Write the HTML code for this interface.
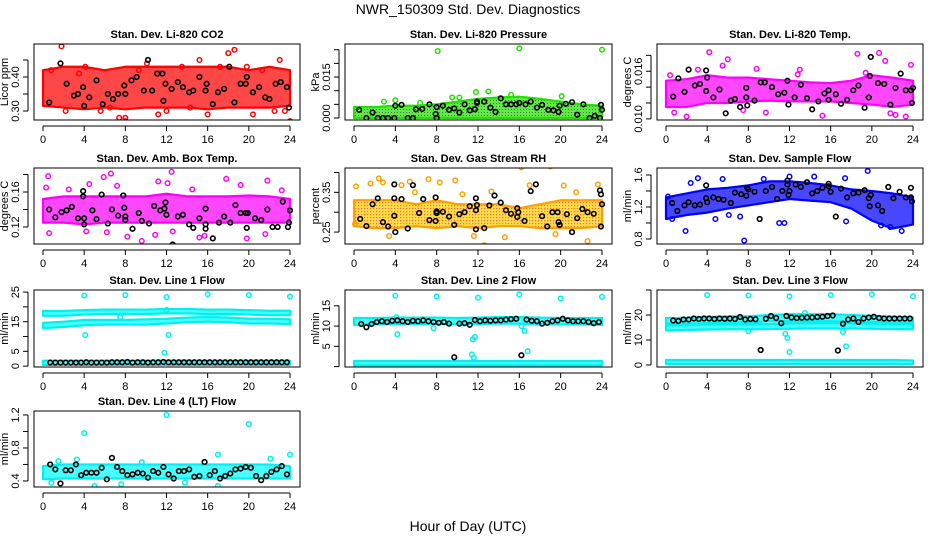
<!DOCTYPE html>
<html><head><meta charset="utf-8">
<style>
html,body{margin:0;padding:0;background:#fff;}
svg{display:block;font-family:"Liberation Sans",Arial,sans-serif;}
</style></head>
<body>
<svg id="chart" width="936" height="540" viewBox="0 0 936 540" xmlns="http://www.w3.org/2000/svg">
<defs>
<pattern id="rhpat" width="3" height="3" patternUnits="userSpaceOnUse"><rect width="3" height="3" fill="#ffd000"/><rect x="1" y="1" width="1.2" height="1.2" fill="#ff3000"/></pattern>
<pattern id="prpat" width="3" height="3" patternUnits="userSpaceOnUse"><rect width="3" height="3" fill="#22e000"/><rect x="1" y="1" width="1" height="1" fill="#064000"/></pattern>
</defs>
<text x="468" y="14" text-anchor="middle" font-size="14">NWR_150309  Std. Dev. Diagnostics</text>
<text x="468" y="531" text-anchor="middle" font-size="14">Hour of Day (UTC)</text>
<g id="panels"></g>
</svg>
<script>
// ---------- data ----------
const bandHours = [0,2,4,6,8,10,12,14,16,18,20,22,24];
const xTicks = [0,4,8,12,16,20,24];
const lineHours = [0.7,1.2,1.7,2.2,2.7,3.2,3.7,4.2,4.7,5.2,5.7,6.2,6.7,7.2,7.7,8.2,8.7,9.2,9.7,10.2,10.7,11.2,11.7,12.2,12.7,13.2,13.7,14.2,14.7,15.2,15.7,16.2,16.7,17.2,17.7,18.2,18.7,19.2,19.7,20.2,20.7,21.2,21.7,22.2,22.7,23.2,23.7];

// CO2
const co2Lo = [0.315,0.31,0.305,0.31,0.305,0.31,0.31,0.31,0.305,0.31,0.31,0.31,0.315];
const co2Hi = [0.42,0.43,0.43,0.42,0.43,0.43,0.43,0.43,0.43,0.43,0.42,0.43,0.42];
const co2OutX = [1.8,8,8,10.1,15.2,18,18.6,23,24,2.2,5.6,7.4,16,20.4,22.5,11.2,4.1,13.5,19.8,12,0.8,3.5,6.5,9.3,14.3,17.2,21.3,23.5];
const co2OutY = [0.49,0.28,0.27,0.44,0.45,0.47,0.48,0.45,0.27,0.30,0.30,0.28,0.29,0.29,0.30,0.29,0.43,0.43,0.43,0.30,0.42,0.41,0.31,0.42,0.31,0.43,0.42,0.30];
const co2BX = [0.6,1.7,2.3,3,3.4,3.9,4,4.5,5.2,5.8,6.3,6.8,7.3,7.9,8,8.6,9.1,9.8,10.2,10.6,11.1,11.6,11.7,11.9,12.5,13.1,13.6,14.2,14.6,15.2,15.8,15.9,16.5,17,17.6,18.1,18.6,19.2,19.7,19.8,20.4,21,21.6,22,22.6,23.1,23.7,23.9];
const co2BY = [0.325,0.44,0.38,0.345,0.35,0.37,0.315,0.34,0.39,0.32,0.35,0.335,0.35,0.375,0.35,0.39,0.40,0.36,0.45,0.36,0.41,0.41,0.33,0.38,0.365,0.385,0.37,0.355,0.36,0.40,0.36,0.38,0.32,0.355,0.365,0.43,0.325,0.38,0.38,0.40,0.355,0.37,0.34,0.335,0.38,0.385,0.37,0.31];

// Pressure
const prLo = [0,0,0,0,0,0,0,0,0,0,0,0,0];
const prHi = [0.004,0.004,0.0045,0.0045,0.005,0.006,0.007,0.0075,0.0078,0.007,0.006,0.005,0.0045];
const prOutX = [8.1,16,24,11.8,13,20.1,4,9.5,10.2,15.2,2.9,6.4];
const prOutY = [0.0245,0.0255,0.025,0.0095,0.0097,0.008,0.0065,0.0075,0.0075,0.0085,0.006,0.0055];
const prBX = [0.5,1.2,1.8,2.3,2.8,3.3,3.9,4,4.6,5.2,5.7,6,6.6,7.3,7.9,8,8,8.6,9.2,9.7,10.2,10.7,11.2,11.7,11.9,11.9,12.6,13.2,13.7,14.2,14.7,15.2,15.7,16,16.6,17.1,17.7,18.2,18.8,19.3,19.8,19.9,20.5,21.1,21.6,22.2,22.8,23.3,23.8,23.9,24];
const prBY = [0.003,0,0.002,0,0,0,0,0.0045,0.0048,0,0,0.0032,0.0033,0.005,0.0015,0,0.004,0.0045,0.003,0.0035,0.002,0.005,0.0028,0.0032,0.006,0.0055,0.006,0.0038,0.0022,0.0072,0.005,0.005,0.005,0.0055,0.005,0.006,0.0038,0.0048,0.003,0.0028,0.0022,0.0045,0.0052,0.0058,0.0012,0.005,0,0.0008,0,0.0048,0.003];

// Li-820 Temp
const tLo = [0.0115,0.0115,0.012,0.012,0.0122,0.0123,0.0122,0.0122,0.0122,0.012,0.0118,0.0115,0.0118];
const tHi = [0.0148,0.015,0.0155,0.0152,0.0152,0.015,0.0148,0.0146,0.0145,0.0148,0.0155,0.0152,0.0148];
const tOutX = [4.2,6,10.3,10.5,18.6,20.7,21.3,23.8,2,0.8,22.3,23.3,21.8,13,15.2,0.4,3.1,5.5,8.8,12.8,19.4,9.7,7.5];
const tOutY = [0.0184,0.0175,0.0085,0.009,0.0182,0.0183,0.0173,0.0168,0.0103,0.0108,0.0105,0.0103,0.0107,0.0162,0.0104,0.0155,0.0162,0.0167,0.0163,0.0156,0.0158,0.0108,0.0111];
const tBX = [0.7,1.2,1.8,2.2,2.8,3.3,3.9,3.9,4,4.6,5.2,5.8,6.3,6.7,7.2,7.8,7.8,7.9,8.6,9.2,9.6,10.3,10.9,11.5,11.8,11.9,12.5,13.1,13.7,14.2,14.8,15.4,15.8,15.8,16.5,17,17.6,18.2,18.7,19.3,19.7,19.8,19.9,20.6,21.2,21.8,22.3,22.8,23.3,23.8,23.9,24];
const tBY = [0.0128,0.0151,0.0134,0.0162,0.0142,0.0144,0.0135,0.0161,0.0152,0.0127,0.0137,0.0107,0.0123,0.0125,0.0115,0.0139,0.0127,0.0117,0.0123,0.0146,0.0146,0.014,0.0131,0.0133,0.0148,0.0118,0.0127,0.0143,0.0126,0.0112,0.0122,0.0132,0.0136,0.0124,0.0131,0.0119,0.0124,0.0136,0.0142,0.0114,0.0127,0.0154,0.0178,0.0145,0.0144,0.0118,0.0139,0.0157,0.0136,0.0136,0.012,0.0139];

// Amb box temp
const aLo = [0.125,0.125,0.123,0.125,0.125,0.125,0.125,0.125,0.125,0.125,0.125,0.125,0.125];
const aHi = [0.152,0.155,0.155,0.155,0.155,0.155,0.158,0.155,0.155,0.155,0.156,0.155,0.152];
const aOutX = [0.5,0.3,0.6,4.5,5.9,6.6,7.2,9.6,8.2,11.2,12.1,12.5,12.6,15.7,17.8,19.2,19.8,21.8,15.2,4.2,10.9,6.2,21.6,2.5,14.5,23.2];
const aOutY = [0.178,0.165,0.113,0.169,0.177,0.181,0.167,0.104,0.109,0.172,0.17,0.183,0.115,0.11,0.175,0.168,0.107,0.173,0.108,0.115,0.111,0.114,0.112,0.163,0.163,0.162];
const aBX = [0.6,1.2,1.8,2.3,2.8,3.4,3.9,3.9,4,4,4.8,5.2,5.7,6.3,6.7,7.3,7.8,7.9,8,8,8.7,9.3,9.6,10.3,10.8,11.4,11.8,11.9,12,12.6,13.1,13.6,14.2,14.6,15.2,15.8,15.8,15.8,16.5,17.1,17.6,18.2,18.7,19.2,19.7,19.8,19.9,20.6,21.2,21.8,22.3,22.8,23.3,23.8,23.9,24];
const aBY = [0.14,0.131,0.137,0.139,0.143,0.13,0.161,0.155,0.13,0.123,0.139,0.129,0.157,0.124,0.14,0.133,0.156,0.142,0.132,0.128,0.118,0.136,0.127,0.124,0.144,0.139,0.141,0.148,0.134,0.1,0.132,0.134,0.123,0.119,0.13,0.141,0.123,0.118,0.107,0.125,0.132,0.125,0.145,0.136,0.136,0.119,0.136,0.13,0.128,0.14,0.12,0.12,0.149,0.12,0.125,0.139];

// Gas stream RH
const rLo = [0.265,0.26,0.26,0.265,0.26,0.265,0.26,0.265,0.265,0.26,0.26,0.26,0.265];
const rHi = [0.33,0.33,0.33,0.32,0.33,0.32,0.32,0.32,0.31,0.32,0.33,0.33,0.33];
const rOutX = [0.2,1.6,2.4,2.8,4.6,5.4,7.2,8.3,9.8,16.2,19,17,20.3,23.6,12.6,22.6,3.4,11.6,14.6,0.1,19.5,5.9,10.5,13.3,21.5];
const rOutY = [0.365,0.372,0.385,0.375,0.368,0.377,0.383,0.375,0.38,0.413,0.415,0.368,0.367,0.37,0.217,0.227,0.24,0.24,0.237,0.27,0.245,0.35,0.345,0.352,0.35];
const rBX = [0.6,1.2,1.8,2.3,2.8,3.3,3.9,3.9,3.9,4,4.6,5.2,5.7,6.3,6.7,7.3,7.9,7.9,8,8,8.6,9.2,9.7,10.2,10.7,11.2,11.8,11.8,11.9,11.8,12.6,13.1,13.6,14.2,14.7,15.2,15.8,15.8,15.9,16.5,17.1,17.6,18.2,18.7,19.2,19.7,19.8,19.9,20.6,21.1,21.6,22.1,22.6,23.2,23.8,23.9,23.9,24];
const rBY = [0.283,0.265,0.32,0.335,0.275,0.264,0.37,0.335,0.291,0.25,0.333,0.259,0.368,0.298,0.333,0.28,0.337,0.278,0.298,0.302,0.301,0.289,0.268,0.295,0.3,0.315,0.335,0.305,0.318,0.257,0.26,0.317,0.342,0.324,0.305,0.296,0.31,0.288,0.3,0.278,0.353,0.37,0.29,0.264,0.3,0.3,0.275,0.268,0.295,0.25,0.285,0.308,0.3,0.296,0.355,0.345,0.264,0.32];

// Sample flow
const sLo = [1.05,1.1,1.13,1.18,1.22,1.26,1.3,1.28,1.26,1.18,1.03,0.93,0.98];
const sHi = [1.32,1.37,1.42,1.44,1.47,1.52,1.52,1.5,1.47,1.42,1.4,1.37,1.32];
const sOutX = [1.9,7.6,19.6,3.1,5.5,14.4,17.4,11,11.5,17.5,9.5,2.4,12,0.2,0.6,4.8,7.2,20.9,21.8,22.9,6.1];
const sOutY = [0.9,0.78,1.65,1.56,1.55,1.58,1.56,1.0,1.0,1.02,1.55,1.5,1.58,1.33,1.05,1.05,1.08,0.97,0.95,0.9,1.1];
const sBX = [0.6,1.1,1.8,2.2,2.8,3.3,3.9,3.9,4,4.6,5.1,5.6,6.3,6.7,7.3,7.9,7.8,8,8.6,9.1,9.7,10.3,10.8,11.3,11.8,11.8,11.9,12,12.6,13.1,13.7,14.2,14.7,15.2,15.8,15.8,16,16.5,17,17.6,18.2,18.7,19.3,19.7,19.8,19.9,20.6,21,21.6,22.1,22.7,23.3,23.8,23.8,23.9];
const sBY = [1.25,1.15,1.22,1.26,1.22,1.23,1.47,1.31,1.26,1.32,1.3,1.29,1.25,1.38,1.36,1.44,1.34,1.42,1.39,1.05,1.4,1.45,1.3,1.4,1.53,1.48,1.35,1.4,1.48,1.45,1.51,1.37,1.4,1.44,1.49,1.46,1.39,1.08,1.43,1.32,1.37,1.38,1.41,1.31,1.21,1.35,1.22,1.15,1.45,1.31,1.39,1.32,1.44,1.32,1.27];

// Line 1 flow
const l1aLo = [17,17,17.4,17.6,17.6,17.6,17.8,17.8,17.6,17.6,17.4,17.2,17.2];
const l1aHi = [18.6,18.6,18.9,19.1,19.1,19.1,19.3,19.3,19.1,19.1,18.9,18.7,18.7];
const l1bLo = [12.8,13.2,13.8,14,14,14,14.4,14.8,15,14.8,14.4,14.4,14.2];
const l1bHi = [14.6,15,15.6,15.6,15.6,15.8,16,16.4,16.6,16.4,16,16,15.8];
const l1cLo = [0.4,0.4,0.4,0.4,0.4,0.4,0.4,0.4,0.4,0.4,0.4,0.4,0.4];
const l1cHi = [1.8,1.8,1.8,1.8,1.8,1.8,1.8,1.8,1.8,1.8,1.8,1.8,1.8];
const l1OutX = [4,8,12,16,20,24,4.1,11.8,12.2,12,7.5];
const l1OutY = [23.8,24,23.3,24.3,24,23.5,10.5,4.5,10.5,19,16.5];
const l1BY = [1.2,1.2,1.2,1.2,1.2,1.2,1.2,1.3,1.2,1.2,1.2,1.2,1.3,1.3,1.3,1.4,1.2,1.3,1.3,1.2,1.3,1.3,1.4,1.3,1.3,1.3,1.3,1.3,1.3,1.3,1.3,1.3,1.3,1.3,1.3,1.3,1.3,1.3,1.3,1.3,1.3,1.3,1.3,1.3,1.3,1.3,1.3];

// Line 2 flow
const l2aLo = [10.3,10.4,10.5,10.5,10.5,10.4,10.5,10.6,10.6,10.4,10.4,10.4,10.3];
const l2aHi = [12,12,12.1,12.1,12.1,12,12.1,12.2,12.2,12.1,12,12,12];
const l2cLo = [0.3,0.3,0.3,0.3,0.3,0.3,0.3,0.3,0.3,0.3,0.3,0.3,0.3];
const l2cHi = [1.4,1.4,1.4,1.4,1.4,1.4,1.4,1.4,1.4,1.4,1.4,1.4,1.4];
const l2OutX = [4,8,12,16,20,24,4.1,4.2,7.7,11.5,11.7,11.4,11.6,16.2,16.5,16.8];
const l2OutY = [17.5,17.3,17,17.8,16.8,17.2,12.2,8,9.5,6.7,7.3,3,2.2,10,8.8,3.8];
const l2BY = [10.5,9.7,10.5,11,11.2,11,11.3,11.4,11.2,11,11.3,11.2,11.4,11.2,11,10.8,11,10.6,2.3,10.6,10.7,10.3,11.5,11.2,11.4,11.3,11.4,11.4,11.6,11.7,11.8,2.8,11.6,11.3,11.2,10.6,10.8,11.2,11.4,11.8,11.4,11.2,11.2,11.2,11,10.7,11];

// Line 3 flow
const l3aLo = [16.5,16.5,16.8,17,17,17.5,17.5,17.5,17.5,17.3,17.2,17,17];
const l3aHi = [18.8,18.8,19.2,19.4,19.5,20,20.3,20.3,20.3,20,19.6,19.3,19];
const l3bLo = [13.8,14,14.2,14.3,14.3,14.4,14.5,14.6,14.6,14.6,14.5,14.4,14.3];
const l3bHi = [15.8,16,16.2,16.3,16.3,16.4,16.6,16.7,16.7,16.7,16.5,16.4,16.3];
const l3cLo = [0.4,0.4,0.4,0.4,0.4,0.4,0.4,0.4,0.4,0.4,0.4,0.4,0.3];
const l3cHi = [2,2,2,2,2,2,2,2,2,2,2,2,1.8];
const l3OutX = [4,8,12,16,20,24,11.6,11.8,12,17.2,17.5,8,13.5];
const l3OutY = [28,27.8,27.5,28,28.3,27.5,12.5,10.8,5.2,13.2,7.5,13.5,20.8];
const l3BY = [17.8,17.6,18.2,18.2,18.6,18.4,18.6,18.6,18.4,18.6,18.5,18.6,18.4,19.2,18.2,18.4,18.3,6,18.5,19.6,18.8,16.7,19.6,19,18.8,18.9,19,19,19.2,19.3,19.6,19.8,5.8,16.5,18.2,18.6,17.2,18.6,19,19.3,18.8,18.6,18.6,18.6,18.6,18.6,18.6];

// Line 4 (LT) flow
const l4Lo = [0.42,0.43,0.43,0.43,0.43,0.43,0.43,0.43,0.43,0.43,0.43,0.43,0.43];
const l4Hi = [0.58,0.6,0.6,0.6,0.6,0.6,0.6,0.6,0.6,0.6,0.6,0.6,0.58];
const l4OutX = [4,12,20,0.8,5,17,24,17,3.3,7.6,13.8,22.1,9.6,1.5];
const l4OutY = [0.98,1.2,1.09,0.38,0.34,0.34,0.72,0.72,0.66,0.36,0.38,0.67,0.63,0.64];
const l4BY = [0.6,0.54,0.37,0.53,0.53,0.6,0.47,0.5,0.5,0.5,0.56,0.42,0.68,0.57,0.52,0.47,0.48,0.5,0.49,0.44,0.52,0.5,0.57,0.48,0.43,0.52,0.52,0.54,0.45,0.46,0.63,0.47,0.52,0.43,0.46,0.49,0.54,0.55,0.57,0.56,0.46,0.41,0.46,0.51,0.54,0.58,0.48];

// ---------- layout ----------
const cols = [{l:34,r:300},{l:345,r:612},{l:657,r:923}];
const rows = [{t:44,b:120},{t:168,b:244},{t:290,b:367},{t:411,b:487}];
const NS = "http://www.w3.org/2000/svg";
const root = document.getElementById('panels');

function mk(tag, attrs, parent){
  const e = document.createElementNS(NS, tag);
  for (const k in attrs) e.setAttribute(k, attrs[k]);
  (parent||root).appendChild(e);
  return e;
}

const panels = [
 {col:0,row:0,title:"Stan. Dev. Li-820 CO2",ylab:"Licor ppm",dom:[0.2735,0.497],ticks:[0.30,0.35,0.40,0.45],labs:["0.30","","0.40",""],color:"#ff0000",fill:"#ff0000",
  bands:[[co2Lo,co2Hi]],ox:co2OutX,oy:co2OutY,bx:co2BX,by:co2BY,key:"co2"},
 {col:1,row:0,title:"Stan. Dev. Li-820 Pressure",ylab:"kPa",dom:[-0.00073,0.0271],ticks:[0,0.005,0.01,0.015,0.02,0.025],labs:["0.000","","","0.015","",""],color:"#22e000",fill:"url(#prpat)",
  bands:[[prLo,prHi]],ox:prOutX,oy:prOutY,bx:prBX,by:prBY,key:"pressure"},
 {col:2,row:0,title:"Stan. Dev. Li-820 Temp.",ylab:"degrees C",dom:[0.00986,0.01943],ticks:[0.010,0.012,0.014,0.016,0.018],labs:["0.010","","","0.016",""],color:"#ff00ff",fill:"#ff00ff",
  bands:[[tLo,tHi]],ox:tOutX,oy:tOutY,bx:tBX,by:tBY,key:"li820-temp"},
 {col:0,row:1,title:"Stan. Dev. Amb. Box Temp.",ylab:"degrees C",dom:[0.1006,0.1874],ticks:[0.12,0.14,0.16,0.18],labs:["0.12","","0.16",""],color:"#ff00ff",fill:"#ff00ff",
  bands:[[aLo,aHi]],ox:aOutX,oy:aOutY,bx:aBX,by:aBY,key:"amb-temp"},
 {col:1,row:1,title:"Stan. Dev. Gas Stream RH",ylab:"percent",dom:[0.220,0.4112],ticks:[0.25,0.30,0.35,0.40],labs:["0.25","","0.35",""],color:"#ffa000",fill:"url(#rhpat)",
  bands:[[rLo,rHi]],ox:rOutX,oy:rOutY,bx:rBX,by:rBY,key:"rh"},
 {col:2,row:1,title:"Stan. Dev. Sample Flow",ylab:"ml/min",dom:[0.7375,1.6875],ticks:[0.8,1.0,1.2,1.4,1.6],labs:["0.8","","1.2","","1.6"],color:"#0000ff",fill:"#0000ff",
  bands:[[sLo,sHi]],ox:sOutX,oy:sOutY,bx:sBX,by:sBY,key:"sample-flow"},
 {col:0,row:2,title:"Stan. Dev. Line 1 Flow",ylab:"ml/min",dom:[-0.3,25.7],ticks:[0,5,10,15,20,25],labs:["0","5","","15","","25"],color:"#00f0f0",fill:"#00ffff",
  bands:[[l1aLo,l1aHi],[l1bLo,l1bHi],[l1cLo,l1cHi]],ox:l1OutX,oy:l1OutY,bx:lineHours,by:l1BY,key:"line1"},
 {col:1,row:2,title:"Stan. Dev. Line 2 Flow",ylab:"ml/min",dom:[-0.1,18.9],ticks:[0,5,10,15],labs:["","5","10","15"],color:"#00f0f0",fill:"#00ffff",
  bands:[[l2aLo,l2aHi],[l2cLo,l2cHi]],ox:l2OutX,oy:l2OutY,bx:lineHours,by:l2BY,key:"line2"},
 {col:2,row:2,title:"Stan. Dev. Line 3 Flow",ylab:"ml/min",dom:[-0.8,30],ticks:[0,10,20,30],labs:["0","10","20",""],color:"#00f0f0",fill:"#00ffff",
  bands:[[l3aLo,l3aHi],[l3bLo,l3bHi],[l3cLo,l3cHi]],ox:l3OutX,oy:l3OutY,bx:lineHours,by:l3BY,key:"line3"},
 {col:0,row:3,title:"Stan. Dev. Line 4 (LT) Flow",ylab:"ml/min",dom:[0.327,1.248],ticks:[0.4,0.6,0.8,1.0,1.2],labs:["0.4","","0.8","","1.2"],color:"#00f0f0",fill:"#00ffff",
  bands:[[l4Lo,l4Hi]],ox:l4OutX,oy:l4OutY,bx:lineHours,by:l4BY,key:"line4"}
];

panels.forEach(p => {
  const c = cols[p.col], r = rows[p.row];
  const x0 = c.l + 9, x1 = c.r - 10;
  const xs = h => x0 + h * (x1 - x0) / 24;
  const ys = v => r.b - (v - p.dom[0]) / (p.dom[1] - p.dom[0]) * (r.b - r.t);
  const g = mk('g', {});
  
  

  const clipId = 'clip-' + p.key;
  const cp = mk('clipPath', {id: clipId}, g);
  mk('rect', {x: c.l, y: r.t, width: c.r - c.l, height: r.b - r.t}, cp);
  const plot = mk('g', {'clip-path': 'url(#' + clipId + ')'}, g);

  p.bands.forEach((b, bi) => {
    let pts = [];
    bandHours.forEach((h, i) => pts.push(xs(h) + ',' + ys(b[1][i])));
    for (let i = bandHours.length - 1; i >= 0; i--) pts.push(xs(bandHours[i]) + ',' + ys(b[0][i]));
    const poly = mk('polygon', {points: pts.join(' '), fill: p.fill, 'fill-opacity': '0.72', stroke: p.color, 'stroke-width': '2.2', 'stroke-linejoin': 'round'}, plot);
    
    
  });
  p.ox.forEach((h, i) => {
    const ci = mk('circle', {cx: xs(h), cy: ys(p.oy[i]), r: 2.3, fill: 'none', stroke: p.color, 'stroke-width': 1.5}, plot);
    
    
  });
  p.bx.forEach((h, i) => {
    const ci = mk('circle', {cx: xs(h), cy: ys(p.by[i]), r: 2.3, fill: 'none', stroke: '#000', 'stroke-width': 1.6}, plot);
    
    
  });

  const box = mk('rect', {x: c.l, y: r.t, width: c.r - c.l, height: r.b - r.t, fill: 'none', stroke: '#000', 'stroke-width': 1}, g);
  
  

  const t = mk('text', {x: (c.l + c.r) / 2, y: r.t - 6, 'text-anchor': 'middle', 'font-size': 11, 'font-weight': 'bold'}, g);
  t.textContent = p.title;
  
  

  const ay = r.b + 6;
  mk('line', {x1: xs(0), x2: xs(24), y1: ay, y2: ay, stroke: '#000'}, g);
  xTicks.forEach(v => {
    mk('line', {x1: xs(v), x2: xs(v), y1: ay, y2: ay + 5, stroke: '#000'}, g);
    const tl = mk('text', {x: xs(v), y: ay + 17, 'text-anchor': 'middle', 'font-size': 11}, g);
    tl.textContent = v;
    
    
  });

  const ax = c.l - 6;
  const tv = p.ticks.filter(v => ys(v) >= r.t - 0.5 && ys(v) <= r.b + 0.5);
  if (tv.length) mk('line', {x1: ax, x2: ax, y1: ys(tv[0]), y2: ys(tv[tv.length - 1]), stroke: '#000'}, g);
  p.ticks.forEach((v, i) => {
    const y = ys(v);
    if (y < r.t - 0.5 || y > r.b + 0.5) return;
    mk('line', {x1: ax - 5, x2: ax, y1: y, y2: y, stroke: '#000'}, g);
    if (p.labs[i]) {
      const yl = mk('text', {x: ax - 9, y: y, 'text-anchor': 'middle', 'font-size': 11, transform: 'rotate(-90 ' + (ax - 9) + ' ' + y + ')'}, g);
      yl.textContent = p.labs[i];
      
      
    }
  });
  const yt = mk('text', {x: c.l - 26, y: (r.t + r.b) / 2, 'text-anchor': 'middle', 'font-size': 11, transform: 'rotate(-90 ' + (c.l - 26) + ' ' + ((r.t + r.b) / 2) + ')'}, g);
  yt.textContent = p.ylab;
  
  
});
</script>
</body></html>
